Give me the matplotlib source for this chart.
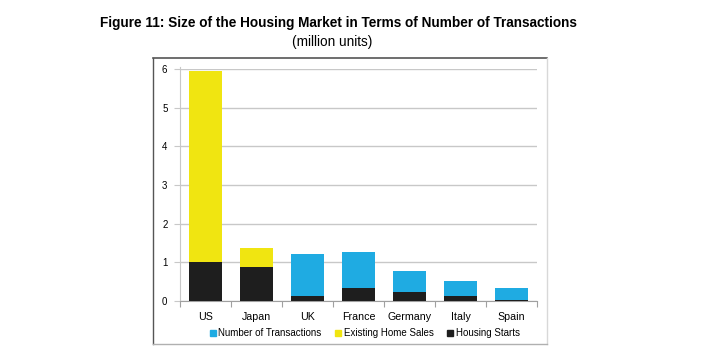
import numpy as np
import matplotlib.pyplot as plt
from matplotlib.lines import Line2D

plt.rcParams['font.family'] = ['Liberation Sans', 'DejaVu Sans']

# ----------------------------------------------------------
# Data (million units)
# ----------------------------------------------------------
countries = ['US', 'Japan', 'UK', 'France', 'Germany', 'Italy', 'Spain']
housing_starts = [1.00, 0.89, 0.12, 0.33, 0.22, 0.12, 0.03]
existing_home_sales = [4.95, 0.47, 0.0, 0.0, 0.0, 0.0, 0.0]
other_transactions = [0.0, 0.0, 1.09, 0.93, 0.56, 0.41, 0.30]

c_blue = '#1FABE2'
c_yellow = '#F0E511'
c_black = '#1E1E1E'

# ----------------------------------------------------------
# Figure
# ----------------------------------------------------------
W, H = 712, 349
fig = plt.figure(figsize=(W / 100, H / 100), dpi=100)

ax = fig.add_axes([180 / W, 1 - 301 / H, (537 - 180) / W, (301 - 69) / H])

x = np.arange(len(countries))
width = 0.66

ax.bar(x, housing_starts, width, color=c_black, zorder=3)
ax.bar(x, existing_home_sales, width, bottom=housing_starts,
       color=c_yellow, zorder=3)
ax.bar(x, other_transactions, width, bottom=housing_starts,
       color=c_blue, zorder=3)

ax.set_xlim(-0.5, len(countries) - 0.5)
ax.set_ylim(0, 6)
ax.set_yticks(range(0, 7))
ax.set_xticks(x)
ax.set_xticklabels(countries, fontsize=7.7)
ax.set_xticks(np.arange(-0.5, len(countries)), minor=True)
ax.tick_params(axis='x', which='major', length=0, pad=8)
ax.tick_params(axis='x', which='minor', length=4, color='#A0A0A0',
               width=0.8)
ax.tick_params(axis='y', length=4, color='#C8C8C8', width=0.8,
               labelsize=7, pad=5)

ax.grid(axis='y', color='#C8C8C8', linewidth=1.0, zorder=0)
for side in ['top', 'right']:
    ax.spines[side].set_visible(False)
ax.spines['left'].set_color('#C8C8C8')
ax.spines['left'].set_linewidth(0.8)
ax.spines['bottom'].set_color('#A0A0A0')
ax.spines['bottom'].set_linewidth(0.8)
ax.spines['left'].set_bounds(0, 6.05)

# ----------------------------------------------------------
# Legend
# ----------------------------------------------------------
handles = [
    Line2D([], [], marker='s', linestyle='none', markersize=5,
           color=c_blue, label='Number of Transactions'),
    Line2D([], [], marker='s', linestyle='none', markersize=5,
           color=c_yellow, label='Existing Home Sales'),
    Line2D([], [], marker='s', linestyle='none', markersize=5,
           color=c_black, label='Housing Starts'),
]
fig.legend(handles=handles, loc='center', bbox_to_anchor=(364 / W, 1 - 333 / H),
           ncol=3, frameon=False, fontsize=7, handletextpad=0.1,
           columnspacing=1.2, handlelength=1.0)

# ----------------------------------------------------------
# Frame around the chart
# ----------------------------------------------------------
x0, x1 = 153 / W, 547 / W
y0, y1 = 1 - 344 / H, 1 - 58 / H
fig.add_artist(Line2D([x0, x1], [y1, y1], color='#555555', linewidth=1.2))
fig.add_artist(Line2D([x0, x0], [y0, y1], color='#555555', linewidth=1.0))
fig.add_artist(Line2D([x1, x1], [y0, y1], color='#D8D8D8', linewidth=1.0))
fig.add_artist(Line2D([x0, x1], [y0, y0], color='#B0B0B0', linewidth=1.0))

# ----------------------------------------------------------
# Titles
# ----------------------------------------------------------
fig.text(338 / W, 1 - 23 / H,
         'Figure 11: Size of the Housing Market in Terms of Number of Transactions',
         ha='center', va='center', fontsize=9.8, fontweight='bold')
fig.text(332 / W, 1 - 42 / H, '(million units)',
         ha='center', va='center', fontsize=9.8)

fig.savefig('out.png', dpi=100)
